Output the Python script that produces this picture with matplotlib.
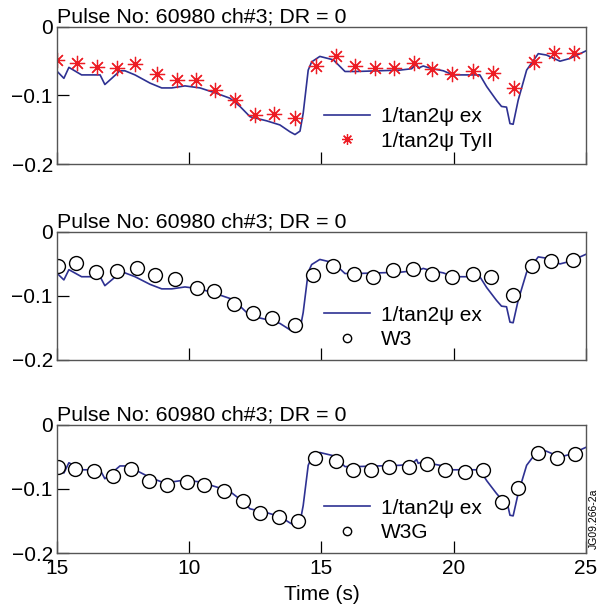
import numpy as np
import matplotlib.pyplot as plt

plt.rcParams['font.family'] = ['Liberation Sans', 'DejaVu Sans']

# 1/tan2psi ex (same trace in all three panels)
t_ex = [5.01, 5.26, 5.45, 5.93, 6.63, 6.81, 7.07, 7.38, 7.57, 7.95, 8.52, 8.96, 9.34,
        9.84, 10.41, 11.04, 11.54, 11.92, 12.30, 12.93, 13.43, 13.81, 14.0, 14.19,
        14.31, 14.50, 14.63, 14.94, 15.45, 15.89, 16.33, 17.97, 18.41, 18.60, 18.66,
        18.85, 19.10, 19.61, 19.98, 20.99, 21.25, 21.62, 21.81, 22.00, 22.13, 22.25,
        22.44, 22.76, 23.20, 23.51, 24.02, 24.40, 25.0]
v_ex = [-0.065, -0.075, -0.059, -0.070, -0.070, -0.084, -0.075, -0.064, -0.064, -0.070,
        -0.082, -0.089, -0.089, -0.086, -0.089, -0.097, -0.104, -0.116, -0.131, -0.137,
        -0.143, -0.153, -0.157, -0.152, -0.126, -0.063, -0.051, -0.043, -0.048, -0.065,
        -0.065, -0.063, -0.061, -0.054, -0.060, -0.057, -0.060, -0.064, -0.070, -0.070,
        -0.087, -0.107, -0.116, -0.117, -0.141, -0.142, -0.107, -0.063, -0.039, -0.041,
        -0.050, -0.046, -0.035]

# 1/tan2psi TyII
t_ty = [5.01, 5.77, 6.50, 7.26, 7.95, 8.77, 9.53, 10.26, 10.98, 11.74, 12.49, 13.20,
        14.00, 14.79, 15.55, 16.27, 17.02, 17.74, 18.50, 19.20, 19.93, 20.73, 21.48,
        22.28, 23.03, 23.79, 24.55]
v_ty = [-0.048, -0.053, -0.059, -0.060, -0.054, -0.068, -0.078, -0.077, -0.092, -0.107,
        -0.129, -0.127, -0.133, -0.057, -0.043, -0.057, -0.060, -0.060, -0.052, -0.062,
        -0.069, -0.064, -0.067, -0.089, -0.051, -0.038, -0.038]

# W3
t_w3 = [5.05, 5.72, 6.48, 7.26, 8.01, 8.70, 9.46, 10.28, 10.95, 11.70, 12.42, 13.14,
        14.00, 14.69, 15.45, 16.24, 16.96, 17.69, 18.47, 19.20, 19.94, 20.72, 21.43,
        22.25, 22.97, 23.68, 24.52]
v_w3 = [-0.054, -0.048, -0.062, -0.061, -0.057, -0.067, -0.074, -0.087, -0.093, -0.113,
        -0.126, -0.134, -0.146, -0.067, -0.054, -0.065, -0.071, -0.060, -0.058, -0.065,
        -0.071, -0.066, -0.070, -0.098, -0.054, -0.046, -0.044]

# W3G
t_w3g = [5.05, 5.68, 6.41, 7.11, 7.80, 8.48, 9.17, 9.93, 10.56, 11.32, 12.04, 12.67,
         13.39, 14.12, 14.75, 15.55, 16.20, 16.87, 17.55, 18.30, 19.00, 19.69, 20.42,
         21.11, 21.84, 22.44, 23.19, 23.89, 24.58]
v_w3g = [-0.065, -0.068, -0.072, -0.080, -0.069, -0.087, -0.093, -0.089, -0.094, -0.103,
         -0.118, -0.137, -0.143, -0.150, -0.052, -0.057, -0.071, -0.070, -0.066, -0.065,
         -0.061, -0.070, -0.073, -0.071, -0.120, -0.099, -0.044, -0.052, -0.046]

title = 'Pulse No: 60980 ch#3; DR = 0'
x_ticks = [5, 10, 15, 20, 25]
x_ticklabels = ['15', '10', '15', '20', '25']
y_ticks = [-0.2, -0.1, 0]
y_ticklabels = ['\u22120.2', '\u22120.1', '0']

blue = '#2e3192'
fs = 15

fig = plt.figure(figsize=(6.09, 6.12), dpi=100)
rects = [[0.0936, 0.732, 0.8684, 0.224],
         [0.0936, 0.412, 0.8684, 0.209],
         [0.0936, 0.0964, 0.8684, 0.2092]]

for i, r in enumerate(rects):
    ax = fig.add_axes(r)
    ax.plot(t_ex, v_ex, color=blue, linewidth=1.2, label='1/tan2\u03c8 ex')
    if i == 0:
        ax.plot(t_ty, v_ty, linestyle='None', marker=(8, 2, 0), markersize=11,
                markeredgewidth=0.9, color='#ed1c24', label='1/tan2\u03c8 TyII')
        mscale = 0.7
    elif i == 1:
        ax.plot(t_w3, v_w3, linestyle='None', marker='o', markersize=10,
                markerfacecolor='white', markeredgecolor='k', markeredgewidth=1.0,
                label='W3')
        mscale = 0.6
    else:
        ax.plot(t_w3g, v_w3g, linestyle='None', marker='o', markersize=10,
                markerfacecolor='white', markeredgecolor='k', markeredgewidth=1.0,
                label='W3G')
        mscale = 0.6
    ax.set_xlim(5, 25)
    ax.set_ylim(-0.2, 0)
    ax.set_xticks(x_ticks)
    ax.set_yticks(y_ticks)
    ax.set_yticklabels(y_ticklabels, fontsize=fs)
    if i == 2:
        ax.set_xticklabels(x_ticklabels, fontsize=fs)
        ax.set_xlabel('Time (s)', fontsize=fs, labelpad=5)
    else:
        ax.set_xticklabels([])
    ax.tick_params(direction='in', length=8.5, width=0.9, pad=4)
    ax.tick_params(axis='y', pad=3)
    for s in ax.spines.values():
        s.set_color('#555555')
        s.set_linewidth(1.0)
    ax.set_title(title, fontsize=15.4, loc='left', pad=2, x=0.0)
    ax.legend(loc='center left', bbox_to_anchor=(0.49, 0.255), frameon=False,
              fontsize=fs, handlelength=2.2, handletextpad=0.5, labelspacing=0.25,
              markerscale=mscale, borderaxespad=0)

fig.text(0.975, 0.152, 'JG09.266-2a', rotation=90, fontsize=7.5, ha='center', va='center')

fig.savefig('out.png', dpi=100)
